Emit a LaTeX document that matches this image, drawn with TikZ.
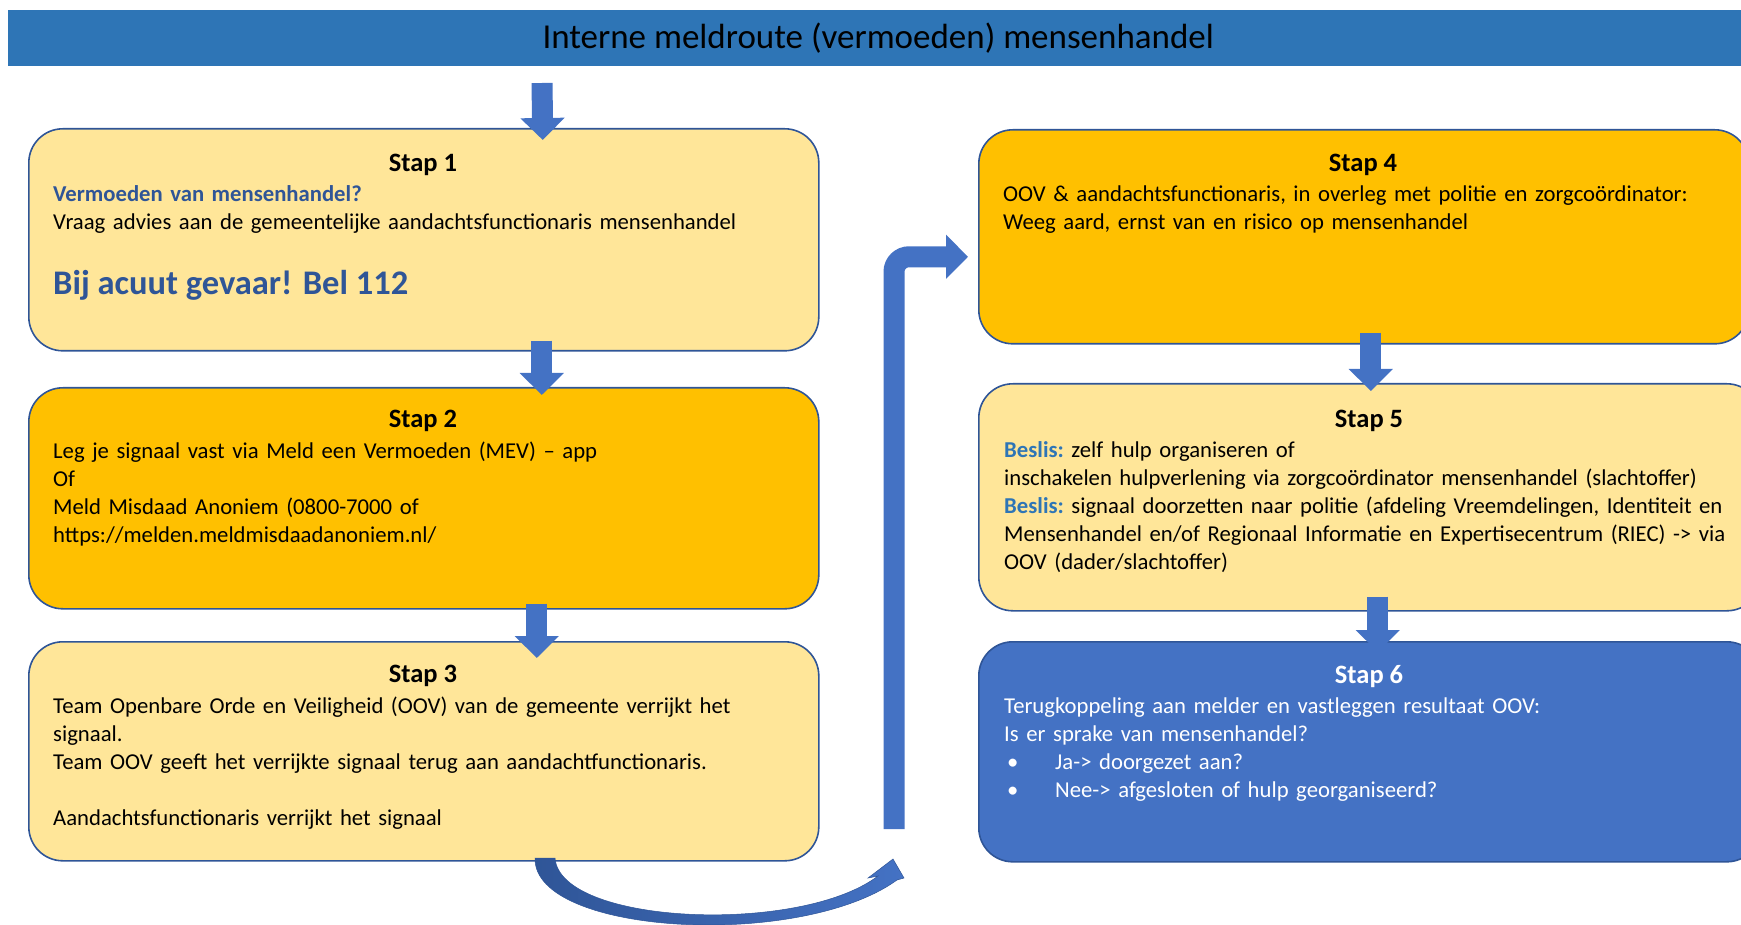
\documentclass[tikz,border=0pt]{standalone}
\usepackage{fontspec}
\setmainfont{Carlito}
\usetikzlibrary{arrows.meta,calc}
\definecolor{titelblauw}{HTML}{2E75B6}
\definecolor{lichtgeel}{HTML}{FFE699}
\definecolor{goudgeel}{HTML}{FFC000}
\definecolor{randblauw}{HTML}{2F5597}
\definecolor{pijlblauw}{HTML}{4472C4}
\definecolor{tekstblauw}{HTML}{2F5597}
\definecolor{beslisblauw}{HTML}{2E75B6}

\begin{document}
\begin{tikzpicture}[x=1pt,y=-1pt,
    stapbox/.style={draw=randblauw, line width=1.6pt, rounded corners=34pt, anchor=north west, inner sep=0pt},
    staptitel/.style={anchor=base, inner sep=0pt, font=\fontsize{26.5}{30}\selectfont\bfseries},
    staptekst/.style={anchor=base west, align=left, text width=760pt, inner sep=0pt, font=\fontsize{22.7}{28}\selectfont},
    blokpijl/.style={draw=pijlblauw, line width=21pt, -{Triangle[width=43pt,length=22pt]}}]
    \useasboundingbox (0,0) rectangle (1741,925);

    % 绘制标题栏
    \node[fill=titelblauw, minimum width=1740pt, minimum height=56pt, anchor=north west,
          inner sep=0pt, font=\fontsize{35}{40}\selectfont] (titel) at (8,10)
          {Interne meldroute (vermoeden) mensenhandel};

    % 绘制左列的三个步骤框
    \node[stapbox, fill=lichtgeel, minimum width=790pt, minimum height=222pt] (s1) at (28,128) {};
    \node[stapbox, fill=goudgeel, minimum width=790pt, minimum height=221pt] (s2) at (28,387) {};
    \node[stapbox, fill=lichtgeel, minimum width=790pt, minimum height=219pt] (s3) at (28,641) {};

    % 绘制右列的三个步骤框
    \node[stapbox, fill=goudgeel, minimum width=770pt, minimum height=214pt] (s4) at (978,129) {};
    \node[stapbox, fill=lichtgeel, minimum width=782pt, minimum height=227pt] (s5) at (978,383) {};
    \node[stapbox, fill=pijlblauw, minimum width=782pt, minimum height=220pt] (s6) at (978,641) {};

    % 步骤 1
    \node[staptitel] (t1) at (423,172) {Stap 1};
    \node[staptekst] (b1) at (53,202) {{\bfseries\color{tekstblauw}Vermoeden van mensenhandel?}\\
        Vraag advies aan de gemeentelijke aandachtsfunctionaris mensenhandel};
    \node[anchor=base west, inner sep=0pt, text=tekstblauw, font=\fontsize{34.5}{40}\selectfont\bfseries]
        (acuut) at (53,295) {Bij acuut gevaar! Bel 112};

    % 步骤 2
    \node[staptitel] (t2) at (423,428) {Stap 2};
    \node[staptekst] (b2) at (53,458) {Leg je signaal vast via Meld een Vermoeden (MEV) – app\\
        Of\\
        Meld Misdaad Anoniem (0800-7000 of\\
        https://melden.meldmisdaadanoniem.nl/};

    % 步骤 3
    \node[staptitel] (t3) at (423,682) {Stap 3};
    \node[staptekst] (b3) at (53,713) {Team Openbare Orde en Veiligheid (OOV) van de gemeente verrijkt het\\
        signaal.\\
        Team OOV geeft het verrijkte signaal terug aan aandachtfunctionaris.\\[28pt]
        Aandachtsfunctionaris verrijkt het signaal};

    % 步骤 4
    \node[staptitel] (t4) at (1363,172) {Stap 4};
    \node[staptekst] (b4) at (1003,202) {OOV \& aandachtsfunctionaris, in overleg met politie en zorgcoördinator:\\
        Weeg aard, ernst van en risico op mensenhandel};

    % 步骤 5
    \node[staptitel] (t5) at (1369,427) {Stap 5};
    \node[staptekst] (b5) at (1004,457) {{\bfseries\color{beslisblauw}Beslis:}~zelf hulp organiseren of\\
        inschakelen hulpverlening via zorgcoördinator mensenhandel (slachtoffer)\\
        {\bfseries\color{beslisblauw}Beslis:}~signaal doorzetten naar politie (afdeling Vreemdelingen, Identiteit en\\
        Mensenhandel en/of Regionaal Informatie en Expertisecentrum (RIEC) -> via\\
        OOV (dader/slachtoffer)};

    % 步骤 6
    \node[staptitel, text=white] (t6) at (1369,683) {Stap 6};
    \node[staptekst, text=white] (b6) at (1004,713) {Terugkoppeling aan melder en vastleggen resultaat OOV:\\
        Is er sprake van mensenhandel?\\
        \makebox[51pt][l]{\hspace{3pt}•}Ja-> doorgezet aan?\\
        \makebox[51pt][l]{\hspace{3pt}•}Nee-> afgesloten of hulp georganiseerd?};

    % 绘制步骤之间的箭头
    \coordinate (start) at (542,83);
    \draw[blokpijl] (start) -- ($(s1.north)+(119,12)$);
    \draw[blokpijl] ($(s1.south)+(118,-11)$) -- ($(s2.north)+(118,8)$);
    \draw[blokpijl] ($(s2.south)+(113,-6)$) -- ($(s3.north)+(113,17)$);
    \draw[blokpijl] ($(s4.south)+(7,-12)$) -- ($(s5.north)+(1,8)$);
    \draw[blokpijl] ($(s5.south)+(8,-15)$) -- ($(s6.north)+(8,11)$);

    % 绘制从步骤 3 到步骤 4 的弯箭头
    \coordinate (ombuig) at (894,829);
    \draw[blokpijl, rounded corners=15pt] (ombuig) |- ($(s4.west)+(-10,20)$);
    \shade[left color=randblauw, right color=pijlblauw, draw=randblauw, line width=0.5pt]
        (535,858) .. controls (533,935) and (800,950) .. (897,880) -- (904,878) -- (893,859)
        -- (868,878) -- (878,876) .. controls (800,935) and (560,925) .. (555,858) -- cycle;

\end{tikzpicture}
\end{document}
